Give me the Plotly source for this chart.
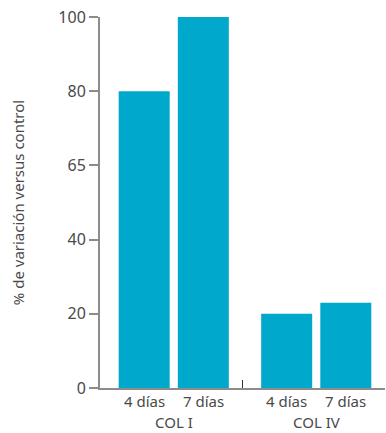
import plotly.graph_objects as go

# data
groups = ["COL I", "COL IV"]
periods = ["4 días", "7 días"]
values = {
    "COL I": [80, 100],
    "COL IV": [20, 23],
}
y_tickvals = [0, 20, 40, 60, 80, 100]
y_ticktext = ["0", "20", "40", "65", "80", "100"]

BAR_COLOR = "#00a8cb"
AXIS_COLOR = "#8c8c8c"
TEXT_COLOR = "#4a4a4a"
FONT = "Noto Sans"

# position of each period bar inside its group (group spans 1 unit)
offsets = [0.31, 0.725]

xs, ys = [], []
for gi, g in enumerate(groups):
    for pi, v in enumerate(values[g]):
        xs.append(gi + offsets[pi])
        ys.append(v)

fig = go.Figure(
    go.Bar(x=xs, y=ys, width=0.358, marker=dict(color=BAR_COLOR, line=dict(width=0)))
)

annotations = []
for gi, g in enumerate(groups):
    for pi, p in enumerate(periods):
        annotations.append(dict(
            x=gi + offsets[pi], y=0, xref="x", yref="paper", text=p,
            showarrow=False, yanchor="top", yshift=-1,
            font=dict(size=15, color=TEXT_COLOR, family=FONT),
        ))
    annotations.append(dict(
        x=gi + sum(offsets) / 2, y=0, xref="x", yref="paper", text=g,
        showarrow=False, yanchor="top", yshift=-22,
        font=dict(size=15, color=TEXT_COLOR, family=FONT),
    ))

fig.update_layout(
    width=386, height=433,
    margin=dict(l=100, r=1, t=17, b=45),
    paper_bgcolor="white", plot_bgcolor="white",
    showlegend=False,
    font=dict(family=FONT, color=TEXT_COLOR, size=14),
    annotations=annotations,
    xaxis=dict(
        range=[0, len(groups)], tickvals=list(range(len(groups) + 1)),
        showticklabels=False, ticks="inside", ticklen=8, tickwidth=1.2,
        tickcolor="#333", showline=True, linecolor=AXIS_COLOR, linewidth=2,
        showgrid=False, zeroline=False,
    ),
    yaxis=dict(
        range=[0, 100], tickvals=y_tickvals, ticktext=y_ticktext,
        ticks="outside", ticklen=9, tickwidth=1.5, tickcolor=AXIS_COLOR,
        showline=True, linecolor=AXIS_COLOR, linewidth=2,
        showgrid=False, zeroline=False,
        tickfont=dict(size=16, color=TEXT_COLOR),
        title=dict(text="% de variación versus control", standoff=30,
                   font=dict(size=15, color=TEXT_COLOR)),
    ),
)

fig.write_html(
    "out.html",
    config={"displayModeBar": False},
    post_script="document.body.style.margin='0';document.body.style.overflow='hidden';",
)
